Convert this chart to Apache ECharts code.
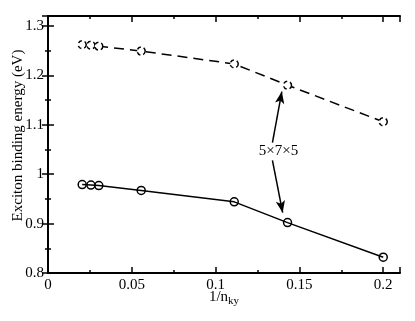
<!DOCTYPE html>
<html><head><meta charset="utf-8">
<script src="https://cdn.jsdelivr.net/npm/echarts@6/dist/echarts.min.js"></script>
<style>html,body{margin:0;padding:0;background:#fff}#c{width:415px;height:321px}</style>
</head><body><div id="c"></div>
<script>
const xValues = [0.0204, 0.0256, 0.0303, 0.0556, 0.1111, 0.1429, 0.2];
const upperY = [1.262, 1.261, 1.259, 1.249, 1.223, 1.180, 1.106];
const lowerY = [0.979, 0.978, 0.977, 0.967, 0.944, 0.902, 0.832];
const xTicks = [0, 0.05, 0.1, 0.15, 0.2];
const yTicks = [0.8, 0.9, 1, 1.1, 1.2, 1.3];
const annotText = '5×7×5';
const annotPos = [0.1375, 1.046];
const arrowUp = [[0.1339, 1.064], [0.1395, 1.167]];
const arrowDown = [[0.1339, 1.028], [0.1400, 0.922]];

const font = 'Liberation Serif';
function fmtX(v){ return xTicks.some(t=>Math.abs(t-v)<1e-9) ? String(+v.toFixed(3)) : ''; }
function fmtY(v){ return yTicks.some(t=>Math.abs(t-v)<1e-9) ? String(+v.toFixed(3)) : ''; }
const axLine = {show:true, lineStyle:{color:'#000', width:2}};
const tick = {show:true, inside:true, length:6, lineStyle:{color:'#000', width:1.5}};
const minor = {show:true, splitNumber:2, length:3, lineStyle:{color:'#000', width:1.5}};
const xBase = {type:'value', min:0, max:0.21, interval:0.05, axisLine:axLine, axisTick:tick, minorTick:minor, splitLine:{show:false}};
const yBase = {type:'value', min:0.8, max:1.32, interval:0.1, axisLine:axLine, axisTick:tick, minorTick:minor, splitLine:{show:false}};

const chart = echarts.init(document.getElementById('c'));
chart.setOption({
  animation:false,
  backgroundColor:'#fff',
  grid:{left:48, right:15, top:16, bottom:48, containLabel:false, outerBoundsMode:'none'},
  xAxis:[
    Object.assign({}, xBase, {position:'bottom',
      name:'1/n{s|ky}', nameLocation:'middle', nameGap:15, nameMoveOverlap:false,
      nameTextStyle:{fontFamily:font, fontSize:15, color:'#000', rich:{s:{fontFamily:font, fontSize:11, color:'#000', padding:[8,0,0,0]}}},
      axisLabel:{formatter:fmtX, fontFamily:font, fontSize:15, color:'#000', margin:5}}),
    Object.assign({}, xBase, {position:'top', axisLabel:{show:false}})
  ],
  yAxis:[
    Object.assign({}, yBase, {position:'left',
      name:'Exciton binding energy (eV)', nameLocation:'middle', nameGap:22, nameMoveOverlap:false,
      nameTextStyle:{fontFamily:font, fontSize:15, color:'#000', padding:[0,0,0,18]},
      axisLabel:{formatter:fmtY, fontFamily:font, fontSize:15, color:'#000', margin:4}}),
    Object.assign({}, yBase, {position:'right', axisLabel:{show:false}})
  ],
  series:[
    {type:'line', data:xValues.map((x,i)=>[x, upperY[i]]), symbol:'circle', symbolSize:8,
     lineStyle:{color:'#000', width:1.5, type:[10,6]},
     itemStyle:{color:'#fff', borderColor:'#000', borderWidth:1.5, borderType:[4,3]}},
    {type:'line', data:xValues.map((x,i)=>[x, lowerY[i]]), symbol:'circle', symbolSize:8,
     lineStyle:{color:'#000', width:1.5},
     itemStyle:{color:'rgba(0,0,0,0)', borderColor:'#000', borderWidth:1.5},
     markLine:{silent:true, symbol:['none','arrow'], symbolSize:[7,12],
       lineStyle:{color:'#000', width:1.5, type:'solid'}, label:{show:false},
       data:[
         [{coord:arrowUp[0]}, {coord:arrowUp[1]}],
         [{coord:arrowDown[0]}, {coord:arrowDown[1]}]
       ]},
     markPoint:{silent:true, symbol:'circle', symbolSize:0,
       label:{show:true, formatter:annotText, fontFamily:font, fontSize:15, color:'#000', position:'inside'},
       data:[{coord:annotPos}]}}
  ]
});
</script></body></html>
